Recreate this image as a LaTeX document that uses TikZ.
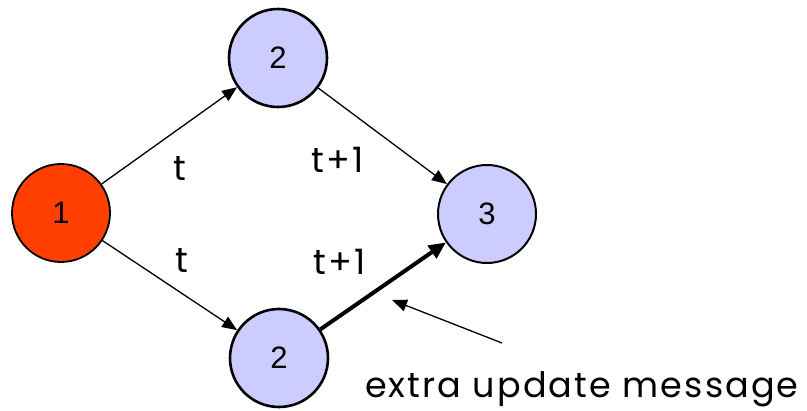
\documentclass[tikz,border=0pt]{standalone}
\usepackage{fontspec}
\setmainfont{Liberation Sans}
\newfontfamily\labelfont[LetterSpace=6]{Poppins}
\usetikzlibrary{arrows.meta}
\definecolor{redfill}{HTML}{FF4000}
\definecolor{bluefill}{HTML}{CCCCFF}
\begin{document}
\begin{tikzpicture}[x=1pt,y=-1pt,
  router/.style={circle,draw=black,line width=2.2pt,minimum size=98pt,inner sep=0pt,font=\fontsize{31}{31}\selectfont},
  link/.style={line width=1.3pt,-{Triangle[length=15pt,width=12pt]}},
  heavy/.style={line width=4pt,-{Triangle[length=17pt,width=15pt]}},
  lbl/.style={font=\labelfont\fontsize{35}{35}\selectfont}]
\useasboundingbox (0,0) rectangle (807,411);
\node[router,fill=redfill,line width=1.8pt] (n1) at (61,213) {1};
\node[router,fill=bluefill,line width=2.6pt] (n2a) at (278,58) {2};
\node[router,fill=bluefill,line width=2pt] (n3) at (487,214) {3};
\node[router,fill=bluefill,line width=2.6pt] (n2b) at (279,358) {2};
\draw[link] (n1) -- (n2a);
\draw[link] (n2a) -- (n3);
\draw[link] (n1) -- (n2b);
\draw[heavy] (n2b) -- (n3);
\node[lbl] (l1) at (180,168) {t};
\node[lbl] (l2) at (338,160) {t+1};
\node[lbl] (l3) at (182,260) {t};
\node[lbl] (l4) at (340,262) {t+1};
\node[lbl,anchor=base west,inner sep=0pt] (msg) at (365,398) {extra update message};
\coordinate (mt) at (392,300);
\draw[link] (502,343) coordinate (ms) -- (mt);
\end{tikzpicture}
\end{document}
